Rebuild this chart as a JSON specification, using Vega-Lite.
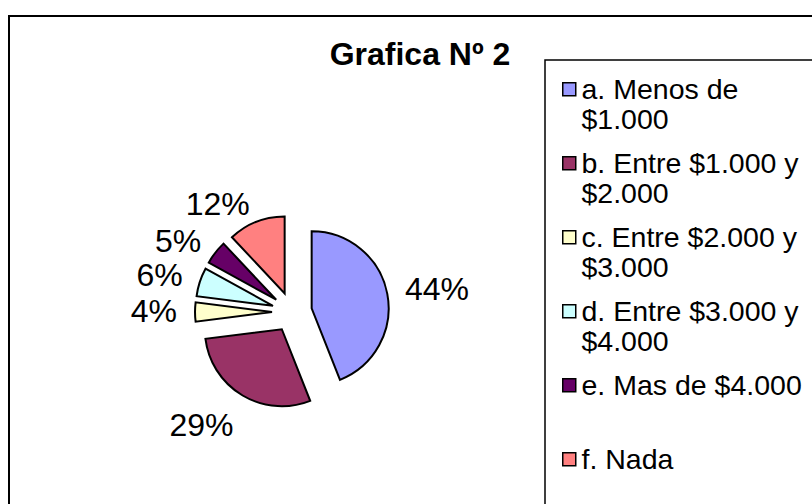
{
  "$schema": "https://vega.github.io/schema/vega-lite/v6.json",
  "width": 822,
  "height": 500,
  "autosize": "none",
  "padding": {"left": 9, "top": 16, "right": 0, "bottom": 0},
  "background": "white",
  "config": {
    "view": {"stroke": "black", "strokeWidth": 2},
    "font": "Liberation Sans"
  },
  "title": {
    "text": "Grafica Nº 2",
    "font": "Liberation Sans",
    "fontSize": 32,
    "fontWeight": "bold",
    "color": "black",
    "anchor": "middle",
    "frame": "group",
    "baseline": "alphabetic",
    "offset": -49,
    "dy": 32
  },
  "data": {
    "values": [
      {"categoria": "a. Menos de $1.000", "valor": 0.44},
      {"categoria": "b. Entre $1.000 y $2.000", "valor": 0.29},
      {"categoria": "c. Entre $2.000 y $3.000", "valor": 0.04},
      {"categoria": "d. Entre $3.000 y $4.000", "valor": 0.06},
      {"categoria": "e. Mas de $4.000", "valor": 0.05},
      {"categoria": "f. Nada", "valor": 0.12}
    ]
  },
  "encoding": {
    "theta": {"field": "valor", "type": "quantitative", "stack": true},
    "order": {"field": "categoria", "type": "ordinal", "sort": "ascending"},
    "x": {"datum": 0.3443, "type": "quantitative", "scale": {"domain": [0, 1]}, "axis": null},
    "y": {"datum": 0.408, "type": "quantitative", "scale": {"domain": [0, 1]}, "axis": null}
  },
  "layer": [
    {
      "mark": {
        "type": "arc",
        "radius": 77,
        "stroke": "black",
        "strokeWidth": 2,
        "xOffset": {"expr": "20*sin(PI*(datum.valor_start+datum.valor_end))"},
        "yOffset": {"expr": "-20*cos(PI*(datum.valor_start+datum.valor_end))"}
      },
      "encoding": {
        "color": {
          "field": "categoria",
          "type": "nominal",
          "scale": {
            "domain": ["a. Menos de $1.000", "b. Entre $1.000 y $2.000", "c. Entre $2.000 y $3.000", "d. Entre $3.000 y $4.000", "e. Mas de $4.000", "f. Nada"],
            "range": ["#9999FF", "#993366", "#FFFFCC", "#CCFFFF", "#660066", "#FF8080"]
          },
          "legend": {
            "title": null,
            "orient": "none",
            "legendX": 536,
            "legendY": 44,
            "padding": 15,
            "symbolOffset": -5,
            "strokeColor": "black",
            "symbolType": "square",
            "symbolSize": 169,
            "symbolStrokeColor": "black",
            "symbolStrokeWidth": 1.5,
            "labelFont": "Liberation Sans",
            "labelFontSize": 28.5,
            "labelColor": "black",
            "labelLimit": 400,
            "labelOffset": -2,
            "rowPadding": 14,
            "labelBaseline": "alphabetic",
            "labelExpr": "(indexof(datum.label, 'Menos') >= 0 || indexof(datum.label, 'Entre') >= 0) ? [slice(datum.label, 0, lastindexof(datum.label, ' ')), slice(datum.label, lastindexof(datum.label, ' ') + 1)] : [datum.label, '']",
            "encode": {
              "legend": {"update": {"strokeWidth": {"value": 1.5}}},
              "labels": {"update": {"dy": {"value": 10}, "lineHeight": {"value": 30}}}
            }
          }
        }
      }
    },
    {
      "mark": {
        "type": "text",
        "radius": 115,
        "fontSize": 32,
        "font": "Liberation Sans",
        "color": "black",
        "align": {"expr": "sin(PI*(datum.valor_start+datum.valor_end)) > 0.3 ? 'left' : (sin(PI*(datum.valor_start+datum.valor_end)) < -0.3 ? 'right' : 'center')"},
        "baseline": {"expr": "cos(PI*(datum.valor_start+datum.valor_end)) < -0.7 ? 'top' : 'middle'"}
      },
      "encoding": {
        "detail": {"field": "categoria", "type": "nominal"},
        "text": {"field": "valor", "type": "quantitative", "format": ".0%"}
      }
    }
  ]
}
